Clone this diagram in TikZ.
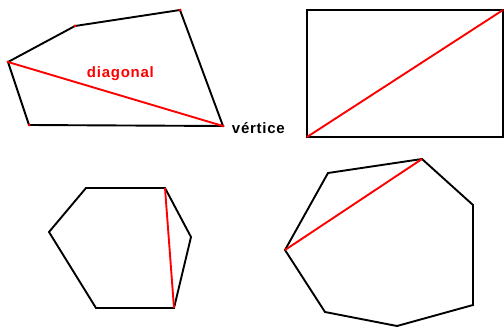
\documentclass[tikz,border=0pt]{standalone}
\usepackage{fontspec}
\setmainfont{Liberation Sans}
\newfontfamily\labelfont[LetterSpace=5]{Liberation Sans}

\begin{document}
\begin{tikzpicture}[x=1pt,y=-1pt,line width=1.9pt]
\useasboundingbox (0,0) rectangle (504,329);
% pentagon with labelled diagonal
\foreach \v/\x/\y in {0/8/62,1/75/26,2/180/10,3/223/126,4/29/125}
 \coordinate (p\v) at (\x,\y);
\draw (p0)--(p1)--(p2)--(p3)--(p4)--cycle;
\draw[red] (p0)--(p3);
\foreach \v in {0,...,4} \fill[red] (p\v) circle (1.5pt);
\node[red,anchor=base west,inner sep=0pt,font=\labelfont\fontsize{15}{17}\selectfont\bfseries] (diag) at (86,78) {diagonal};
\node[anchor=base west,inner sep=0pt,font=\labelfont\fontsize{15}{17}\selectfont\bfseries] (vert) at (231,133) {vértice};
% rectangle
\coordinate (r0) at (307,137);
\coordinate (r1) at (503,10);
\draw (r0) rectangle (r1);
\draw[red] (r0)--(r1);
% hexagon
\foreach \v/\x/\y in {0/86/188,1/165/188,2/191/237,3/174/308,4/96/308,5/49/232}
 \coordinate (h\v) at (\x,\y);
\draw (h0)--(h1)--(h2)--(h3)--(h4)--(h5)--cycle;
\draw[red] (h1)--(h3);
% heptagon
\foreach \v/\x/\y in {0/328/173,1/422/159,2/473/205,3/473/305,4/397/326,5/325/312,6/285/250}
 \coordinate (s\v) at (\x,\y);
\draw (s0)--(s1)--(s2)--(s3)--(s4)--(s5)--(s6)--cycle;
\draw[red] (s6)--(s1);
\end{tikzpicture}
\end{document}
